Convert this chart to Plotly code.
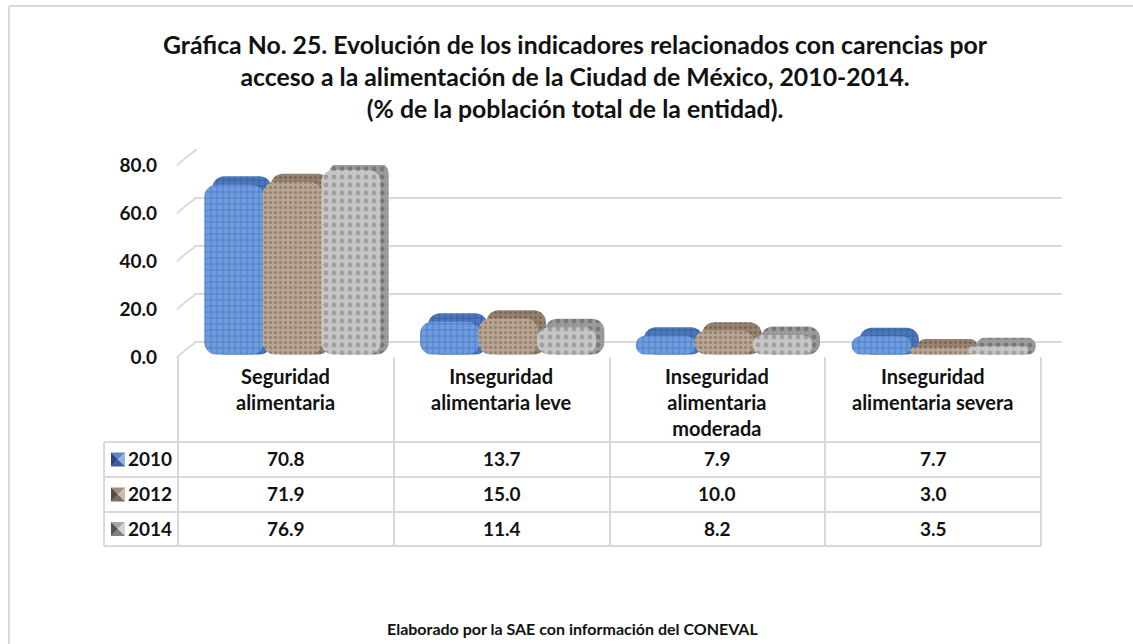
import plotly.graph_objects as go

W, H = 1133, 644
categories = ["Seguridad<br>alimentaria", "Inseguridad<br>alimentaria leve",
              "Inseguridad<br>alimentaria<br>moderada", "Inseguridad<br>alimentaria severa"]
years = ["2010", "2012", "2014"]
v2010 = [70.8, 13.7, 7.9, 7.7]
v2012 = [71.9, 15.0, 10.0, 3.0]
v2014 = [76.9, 11.4, 8.2, 3.5]
series = [v2010, v2012, v2014]
ticks = [0, 20, 40, 60, 80]
title = ("<b>Gráfica No. 25. Evolución de los indicadores relacionados con carencias por<br>"
         "acceso a la alimentación de la Ciudad de México, 2010-2014.<br>"
         "(% de la población total de la entidad).</b>")
source = "<b>Elaborado por la SAE con información del CONEVAL</b>"

FONT = "Lato, Carlito, Calibri, sans-serif"
INK = "#111111"
GRID = "#d9d9d9"
front_col = ["#6f9de0", "#b8a692", "#c6c6c6"]
front_pat = ["#2f5ea8", "#6e5c4b", "#7a7a7a"]
back_col = ["#4a78bd", "#96836f", "#9a9a9a"]
back_pat = ["#26477f", "#5a4a3c", "#555555"]
key_hi = ["#8fb4e6", "#cbbcaa", "#d4d4d4"]
key_mid = ["#5f86c0", "#a08f7d", "#a8a8a8"]
key_lo = ["#3a5f98", "#7d6c5c", "#808080"]
key_dk = ["#26477f", "#5a4a3c", "#555555"]
pat = ["+", ".", "."]
pat_size = [6, 5, 8]

px = lambda x: x / W
py = lambda y: 1 - y / H

X0, X1 = 178, 1041
CAT = (X1 - X0) / 4
FLOOR = 1.0
RAISE = 4.5
fig = go.Figure()

fig.add_trace(go.Scatter(x=[0], y=[0], xaxis="x", yaxis="y", mode="markers",
                         marker=dict(opacity=0), hoverinfo="skip", showlegend=False))


def pillow(vals, off, col, pc, i, name):
    """A bar with an explicit base, which plotly rounds at both ends."""
    fig.add_trace(go.Bar(x=categories, y=vals, base=[FLOOR] * len(vals),
                         xaxis="x2", yaxis="y2", offset=off, width=0.275,
                         name=name, showlegend=False,
                         marker=dict(color=col, line=dict(width=0), cornerradius=12,
                                     pattern=dict(shape=pat[i], fgcolor=pc, size=pat_size[i],
                                                  solidity=0.3, fillmode="overlay"))))


for i, vals in enumerate(series):
    off = -0.378 + i * 0.271
    pillow([v + RAISE - FLOOR for v in vals], off + 0.037, back_col[i], back_pat[i], i, years[i])
    pillow(vals, off, front_col[i], front_pat[i], i, years[i])

shapes = []
line = dict(color=GRID, width=2)
shapes.append(dict(type="line", xref="paper", yref="paper", x0=px(9), x1=px(9), y0=py(6), y1=py(H), line=line))
shapes.append(dict(type="line", xref="paper", yref="paper", x0=px(9), x1=1, y0=py(6), y1=py(6), line=line))
for t in ticks:
    yf = 357 - t * 2.4
    shapes.append(dict(type="line", xref="paper", yref="paper", x0=px(177), x1=px(197),
                       y0=py(yf), y1=py(yf - 16), line=line, layer="below"))
for x in [X0, 394, 610, 825, X1]:
    shapes.append(dict(type="line", xref="paper", yref="paper", x0=px(x), x1=px(x), y0=py(357), y1=py(546), line=line))
shapes.append(dict(type="line", xref="paper", yref="paper", x0=px(104), x1=px(104), y0=py(442), y1=py(546), line=line))
row_y = [442, 477, 512, 546]
for y in row_y:
    shapes.append(dict(type="line", xref="paper", yref="paper", x0=px(104), x1=px(X1), y0=py(y), y1=py(y), line=line))
for i in range(3):
    yc = (row_y[i] + row_y[i + 1]) / 2
    x0, x1, y0, y1, xm, ym = 111, 125, yc - 7, yc + 7, 118, yc
    pts = [((x0, y0), (x1, y0), key_mid[i]), ((x1, y0), (x1, y1), key_hi[i]),
           ((x1, y1), (x0, y1), key_lo[i]), ((x0, y1), (x0, y0), key_dk[i])]
    for a, b, c in pts:
        path = f"M{px(a[0])},{py(a[1])} L{px(b[0])},{py(b[1])} L{px(xm)},{py(ym)} Z"
        shapes.append(dict(type="path", xref="paper", yref="paper", path=path,
                           fillcolor=c, line=dict(width=0)))

ann = []


def text(x, y, s, size, anchor="center", yanchor="middle"):
    ann.append(dict(xref="paper", yref="paper", x=px(x), y=py(y), text=s, showarrow=False,
                    xanchor=anchor, yanchor=yanchor, align="center",
                    font=dict(family=FONT, size=size, color=INK)))


text(575, 76, title, 24.8)
text(572, 628, source, 16)
for i, c in enumerate(categories):
    xc = X0 + CAT * (i + 0.5)
    text(xc, 362, f"<b>{c}</b>", 20, yanchor="top")
    for r, vals in enumerate(series):
        text(xc, (row_y[r] + row_y[r + 1]) / 2 - 1, f"<b>{vals[i]:.1f}</b>", 19)
for r, y in enumerate(years):
    text(150, (row_y[r] + row_y[r + 1]) / 2 - 1, f"<b>{y}</b>", 19)

fig.update_layout(
    width=W, height=H, autosize=False, margin=dict(l=0, r=0, t=0, b=0),
    paper_bgcolor="white", plot_bgcolor="rgba(0,0,0,0)", barmode="overlay",
    showlegend=False, shapes=shapes, annotations=ann,
    xaxis=dict(domain=[px(197), px(1062)], range=[0, 1], visible=False, automargin=False),
    yaxis=dict(domain=[py(342), py(150)], range=[0, 80], tickvals=ticks, showticklabels=False,
               showgrid=True, gridcolor=GRID, gridwidth=2, zeroline=True, zerolinecolor=GRID, zerolinewidth=2,
               showline=False, ticks="", automargin=False),
    xaxis2=dict(domain=[px(X0), px(X1)], anchor="y2", type="category", range=[-0.5, 3.5],
                showticklabels=False, showgrid=False, zeroline=False, showline=False, ticks="",
                automargin=False),
    yaxis2=dict(domain=[py(357), py(165)], anchor="x2", range=[0, 80], tickvals=ticks,
                tickformat=".1f", showgrid=False, zeroline=False, showline=False, ticks="",
                ticklabelstandoff=20, automargin=False,
                tickfont=dict(family=FONT, size=19, color=INK, weight="bold")),
)

fig.write_html("out.html", config={"displayModeBar": False},
               post_script="document.body.style.margin='0';document.body.style.overflow='hidden';")
